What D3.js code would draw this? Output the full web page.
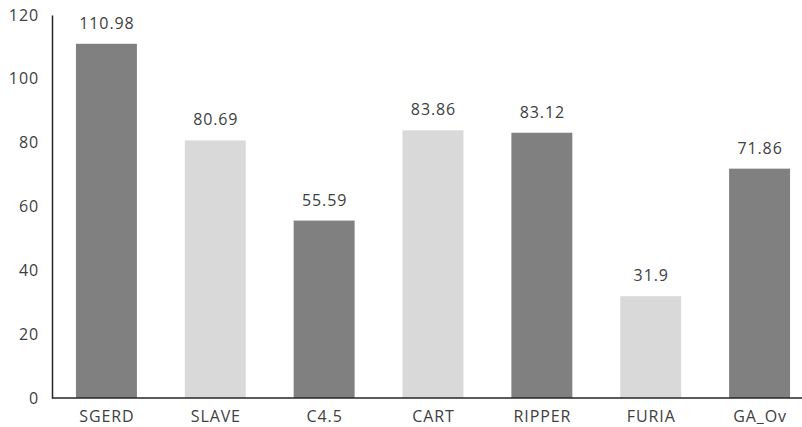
<!DOCTYPE html>
<html>
<head>
<meta charset="utf-8">
<script src="https://cdn.jsdelivr.net/npm/d3@7/dist/d3.min.js"></script>
<style>
  html, body { margin: 0; padding: 0; background: #fff; }
  svg { display: block; }
  text { font-family: "Open Sans", sans-serif; font-size: 16px; letter-spacing: 0.9px; fill: #404040; }
</style>
</head>
<body>
<svg id="chart" width="802" height="427"></svg>
<script>
// Algorithms and their measured values
const categories = ["SGERD", "SLAVE", "C4.5", "CART", "RIPPER", "FURIA", "GA_Ov"];
const values = [110.98, 80.69, 55.59, 83.86, 83.12, 31.9, 71.86];
const valueLabels = ["110.98", "80.69", "55.59", "83.86", "83.12", "31.9", "71.86"];
const yTicks = [0, 20, 40, 60, 80, 100, 120];
const barColors = ["#808080", "#d9d9d9"];

const svg = d3.select("#chart");
const x0 = 52, yTop = 15, yBottom = 398;
const font = "'Open Sans', sans-serif";

const x = d3.scaleBand()
  .domain(categories)
  .range([x0, 814])
  .paddingInner(0.44)
  .paddingOuter(0.22);

const y = d3.scaleLinear()
  .domain([0, 120])
  .range([yBottom, yTop]);

// bars
svg.append("g").selectAll("rect")
  .data(categories)
  .join("rect")
  .attr("x", d => x(d))
  .attr("width", x.bandwidth())
  .attr("y", (d, i) => y(values[i]))
  .attr("height", (d, i) => y(0) - y(values[i]))
  .attr("fill", (d, i) => barColors[i % 2]);

// value labels above bars
svg.append("g").selectAll("text")
  .data(categories)
  .join("text")
  .attr("x", d => x(d) + x.bandwidth() / 2 + 0.5)
  .attr("y", (d, i) => y(values[i]) - 15)
  .attr("text-anchor", "middle")
  .text((d, i) => valueLabels[i]);

// y axis
const yAxis = svg.append("g")
  .attr("transform", `translate(${x0},0)`)
  .call(d3.axisLeft(y).tickValues(yTicks).tickSize(0).tickPadding(13).tickFormat(d3.format("d")));
yAxis.select(".domain").attr("stroke", "#262626").attr("stroke-width", 1.5);
yAxis.selectAll("text").style("font-family", font).style("font-size", "16px").attr("fill", "#404040");

// x axis
const xAxis = svg.append("g")
  .attr("transform", `translate(0,${yBottom})`)
  .call(d3.axisBottom(x).tickSize(0).tickPadding(0));
xAxis.select(".domain").remove();
xAxis.selectAll("text")
  .attr("dy", null)
  .attr("y", 24)
  .attr("dx", 0.5)
  .style("font-family", font).style("font-size", "16px").attr("fill", "#404040");
xAxis.append("line")
  .attr("x1", x0).attr("x2", 802)
  .attr("y1", 0).attr("y2", 0)
  .attr("stroke", "#262626").attr("stroke-width", 1.5);
</script>
</body>
</html>
